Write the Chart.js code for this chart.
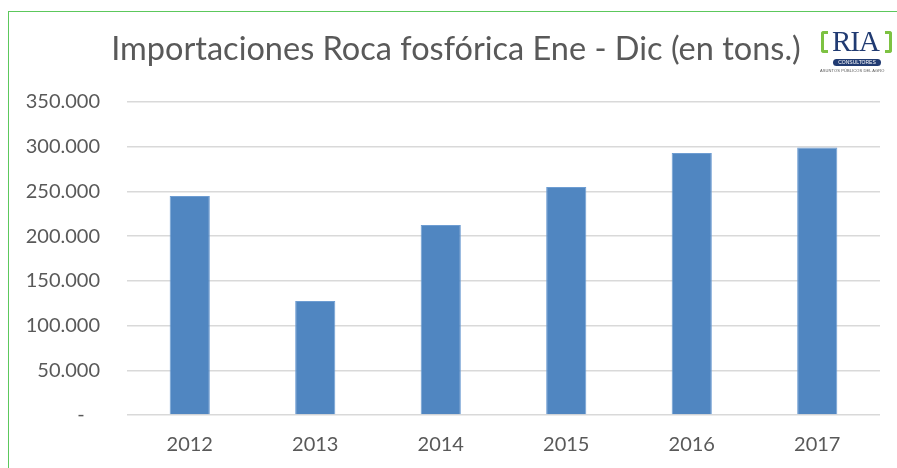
<!DOCTYPE html>
<html>
<head>
<meta charset="utf-8">
<script src="https://cdn.jsdelivr.net/npm/chart.js@4.4.1/dist/chart.umd.min.js"></script>
<style>
  html, body { margin: 0; padding: 0; background: #fff; }
  #wrap { position: relative; width: 897px; height: 468px; overflow: hidden; }
  #frame { position: absolute; left: 8px; top: 11px; width: 1000px; height: 1000px; border: 1.5px solid #5CC85C; box-sizing: border-box; pointer-events: none; }
  canvas { position: absolute; left: 0; top: 0; }
  .br { position: absolute; border: 3px solid #7DC242; width: 4px; height: 16px; }
  #lb { left: 821px; top: 31px; border-right: none; border-radius: 3px 0 0 3px; }
  #rb { left: 885px; top: 31px; border-left: none; border-radius: 0 3px 3px 0; }
  #ria { position: absolute; left: 832px; top: 25px; font-family: "Liberation Serif", "DejaVu Serif", serif; font-size: 29px; color: #213B72; letter-spacing: -1px; line-height: 32px; }
  #pill { position: absolute; left: 833px; top: 59px; width: 48px; height: 7px; background: #213B72; border-radius: 4px; color: #fff; font-family: "Liberation Sans", sans-serif; font-size: 5px; line-height: 7px; text-align: center; }
  #sub { position: absolute; left: 820px; top: 68px; font-family: "Liberation Sans", sans-serif; font-size: 4px; color: #555; white-space: nowrap; letter-spacing: 0.1px; }
</style>
</head>
<body>
<div id="wrap">
  <canvas id="c" width="897" height="468"></canvas>
  <div id="frame"></div>
  <div class="br" id="lb"></div>
  <div class="br" id="rb"></div>
  <div id="ria">RIA</div>
  <div id="pill">CONSULTORES</div>
  <div id="sub">ASUNTOS PÚBLICOS DEL AGRO</div>
</div>
<script>
const categories = ["2012", "2013", "2014", "2015", "2016", "2017"];
const importaciones = [245000, 127500, 212500, 255000, 293000, 299000];
const yTickValues = [0, 50000, 100000, 150000, 200000, 250000, 300000, 350000];
const titleText = "Importaciones Roca fosfórica Ene - Dic (en tons.)";

function fmt(v) {
  if (v === 0) return "-   ";
  return v.toString().replace(/\B(?=(\d{3})+(?!\d))/g, ".");
}

const titlePlugin = {
  id: "customTitle",
  afterDraw(chart) {
    const ctx = chart.ctx;
    ctx.save();
    ctx.font = "32.5px Lato";
    ctx.fillStyle = "#595959";
    ctx.textAlign = "center";
    ctx.textBaseline = "middle";
    ctx.fillText(titleText, 456, 50);
    ctx.restore();
  }
};

new Chart(document.getElementById("c"), {
  type: "bar",
  data: {
    labels: categories,
    datasets: [{
      data: importaciones,
      backgroundColor: "#5086C1",
      borderColor: "#6E9DD2",
      borderWidth: 1,
      barPercentage: 0.64,
      categoryPercentage: 0.5
    }]
  },
  plugins: [titlePlugin],
  options: {
    responsive: false,
    animation: false,
    layout: { padding: { left: 0, right: 17, top: 102, bottom: 0 } },
    plugins: {
      legend: { display: false },
      tooltip: { enabled: false },
      title: { display: false }
    },
    scales: {
      x: {
        grid: { display: false },
        border: { display: false },
        ticks: { color: "#595959", font: { family: "Lato", size: 20 }, padding: 10 },
        afterFit: (s) => { s.height = 53; }
      },
      y: {
        min: 0,
        max: 350000,
        afterBuildTicks: (s) => { s.ticks = yTickValues.map(v => ({ value: v })); },
        grid: { color: "#D9D9D9", lineWidth: 1.5, drawTicks: false },
        border: { display: false },
        ticks: { color: "#595959", font: { family: "Lato", size: 20 }, padding: 27, callback: (v) => fmt(v) },
        afterFit: (s) => { s.width = 127; }
      }
    }
  }
});
</script>
</body>
</html>
